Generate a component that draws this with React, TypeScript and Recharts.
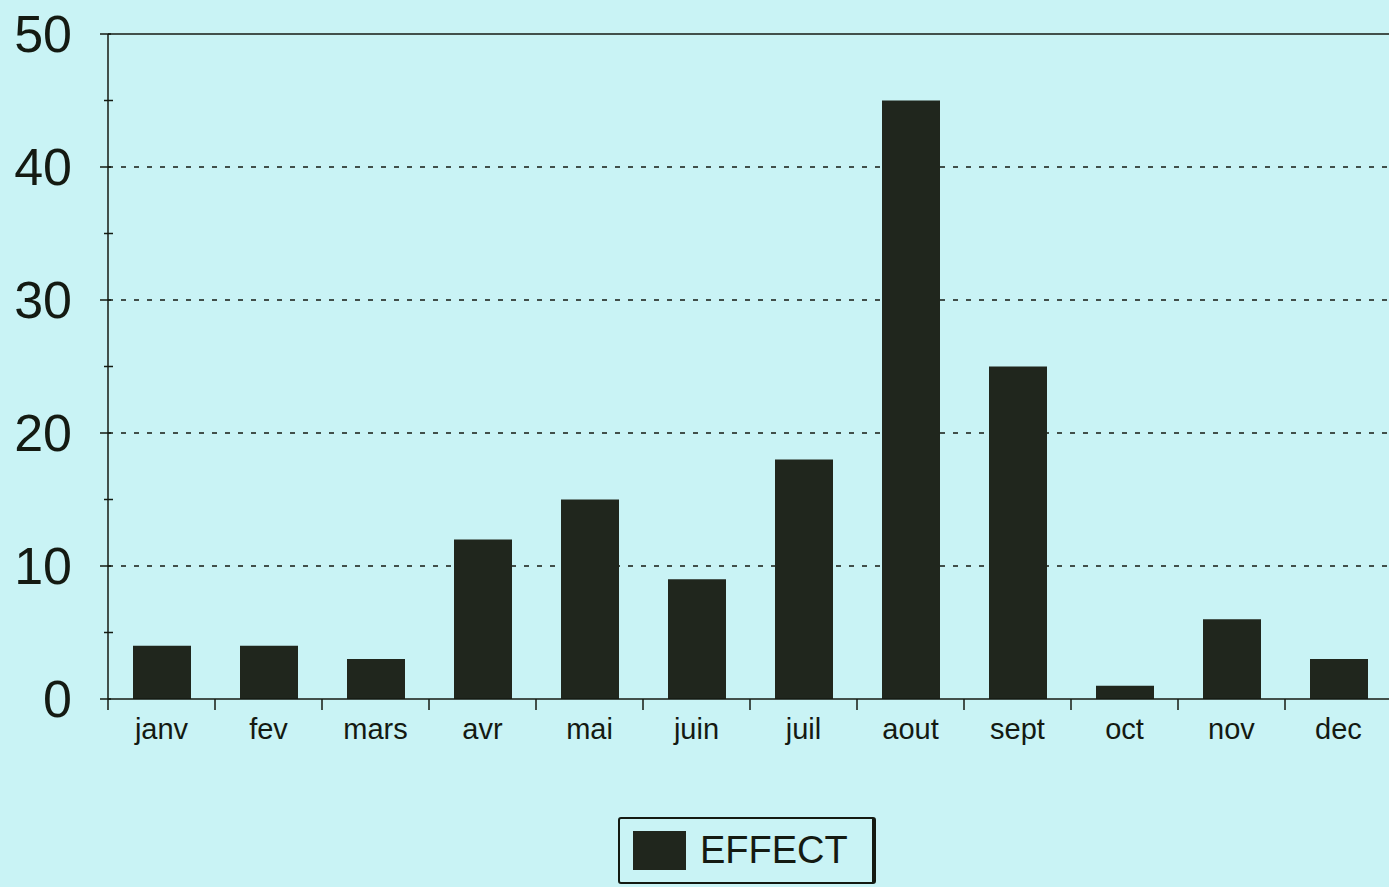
import React from 'react';
import {
  BarChart,
  Bar,
  XAxis,
  YAxis,
  CartesianGrid,
  ReferenceLine,
  Legend,
} from 'recharts';

const months = ['janv', 'fev', 'mars', 'avr', 'mai', 'juin', 'juil', 'aout', 'sept', 'oct', 'nov', 'dec'];
const effect = [4, 4, 3, 12, 15, 9, 18, 45, 25, 1, 6, 3];
const yTicks = [0, 5, 10, 15, 20, 25, 30, 35, 40, 45, 50];
const gridValues = [10, 20, 30, 40];

const chartData = months.map((m, i) => ({ month: m, EFFECT: effect[i] }));

const FONT = '"Liberation Sans", Arial, sans-serif';
const INK = '#141a12';
const BAR = '#20261d';

// category label plus a tick mark on the band boundary
const MonthTick = (props: any) => {
  const { x, y, payload, index, visibleTicksCount } = props;
  const half = payload.offset || 0;
  const isLast = index === visibleTicksCount - 1;
  return (
    <g>
      <line x1={x - half} x2={x - half} y1={y} y2={y + 11} stroke={INK} strokeWidth={1.5} />
      {isLast && <line x1={x + half} x2={x + half} y1={y} y2={y + 11} stroke={INK} strokeWidth={1.5} />}
      <text x={x} y={y + 30} dy="0.355em" textAnchor="middle" fill={INK} fontSize={29} fontFamily={FONT}>
        {payload.value}
      </text>
    </g>
  );
};

// major ticks get a label, minor ticks only a short mark across the axis
const ValueTick = (props: any) => {
  const { x, y, payload } = props;
  const major = payload.value % 10 === 0;
  if (!major) {
    return <line x1={x - 4} x2={x + 5} y1={y} y2={y} stroke={INK} strokeWidth={1.5} />;
  }
  return (
    <g>
      <line x1={x - 8} x2={x + 3} y1={y} y2={y} stroke={INK} strokeWidth={1.5} />
      <text x={x - 36} y={y} dy="0.355em" textAnchor="end" fill={INK} fontSize={52} fontFamily={FONT}>
        {payload.value}
      </text>
    </g>
  );
};

const LegendBox = () => (
  <div
    style={{
      boxSizing: 'border-box',
      width: 258,
      height: 67,
      border: `2px solid ${INK}`,
      borderRightWidth: 4,
      borderRadius: 3,
      display: 'flex',
      alignItems: 'center',
      paddingLeft: 13,
      fontFamily: FONT,
      fontSize: 38,
      color: INK,
    }}
  >
    <span style={{ display: 'inline-block', width: 53, height: 39, background: BAR, marginRight: 14 }} />
    EFFECT
  </div>
);

export default function App() {
  return (
    <div
      style={{
        position: 'absolute',
        left: 0,
        top: 0,
        width: 1389,
        height: 887,
        overflow: 'hidden',
        background: '#c9f3f5',
      }}
    >
      <BarChart
        width={1400}
        height={887}
        data={chartData}
        margin={{ top: 34, right: 8, left: 0, bottom: 128 }}
        barSize={58}
      >
        <CartesianGrid
          vertical={false}
          horizontalValues={gridValues}
          stroke={INK}
          strokeDasharray="5 8"
          strokeWidth={1.3}
        />
        <XAxis
          dataKey="month"
          height={60}
          axisLine={{ stroke: INK, strokeWidth: 1.5 }}
          tickLine={false}
          tickSize={0}
          tickMargin={0}
          tick={<MonthTick />}
          interval={0}
        />
        <YAxis
          domain={[0, 50]}
          ticks={yTicks}
          width={108}
          axisLine={{ stroke: INK, strokeWidth: 1.5 }}
          tickLine={false}
          tickSize={0}
          tickMargin={0}
          tick={<ValueTick />}
          interval={0}
        />
        <ReferenceLine y={50} stroke={INK} strokeWidth={1.5} />
        <Legend
          layout="horizontal"
          verticalAlign="middle"
          align="center"
          wrapperStyle={{ left: 618, top: 817, width: 258 }}
          content={() => <LegendBox />}
        />
        <Bar dataKey="EFFECT" fill={BAR} isAnimationActive={false} />
      </BarChart>
    </div>
  );
}
